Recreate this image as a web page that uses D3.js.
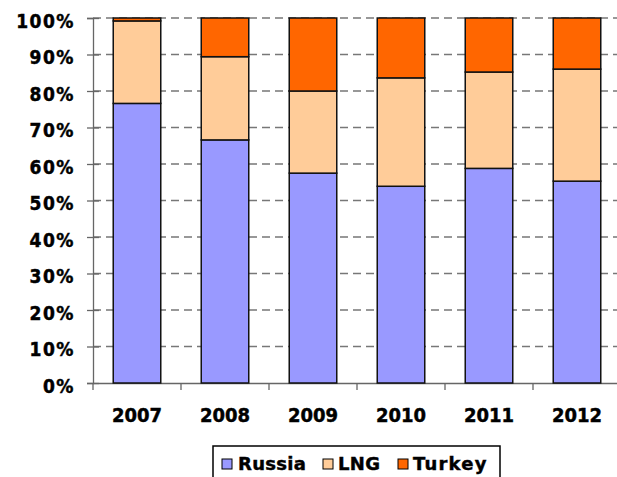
<!DOCTYPE html>
<html>
<head>
<meta charset="utf-8">
<script src="https://cdn.jsdelivr.net/npm/d3@7"></script>
<style>
  body { margin: 0; background: #fff; overflow: hidden; }
  svg { display: block; font-family: "DejaVu Sans", Verdana, sans-serif; font-weight: bold; }
  svg text { stroke: #000; stroke-width: 0.45px; }
</style>
</head>
<body>
<svg id="chart" width="617" height="477"></svg>
<script>
const years = ["2007", "2008", "2009", "2010", "2011", "2012"];
const russia = [76.6, 66.6, 57.5, 53.9, 58.8, 55.3];
const lng    = [22.6, 22.8, 22.5, 29.7, 26.4, 30.7];
const turkey = [0.8, 10.6, 20.0, 16.4, 14.8, 14.0];
const seriesNames = ["Russia", "LNG", "Turkey"];
const seriesColors = ["#9999ff", "#ffcc99", "#ff6600"];
const yTicks = [0, 10, 20, 30, 40, 50, 60, 70, 80, 90, 100];

const svg = d3.select("#chart");
const plotLeft = 93, plotRight = 621, plotTop = 18, plotBottom = 383;
const axisFont = "'DejaVu Sans Condensed', 'DejaVu Sans', sans-serif";

const x = d3.scaleBand().domain(years).range([plotLeft, plotRight]).paddingInner(0).paddingOuter(0);
const y = d3.scaleLinear().domain([0, 100]).range([plotBottom, plotTop]);

const rows = years.map((yr, i) => ({ year: yr, Russia: russia[i], LNG: lng[i], Turkey: turkey[i] }));
const stacked = d3.stack().keys(seriesNames)(rows);

// dashed grid
svg.append("g")
   .selectAll("line")
   .data(yTicks.filter(d => d > 0))
   .enter()
   .append("line")
   .attr("x1", plotLeft)
   .attr("x2", plotRight)
   .attr("y1", d => y(d))
   .attr("y2", d => y(d))
   .attr("stroke", "#777")
   .attr("stroke-width", 1.3)
   .attr("stroke-dasharray", "8,5");

// y axis
const yAxis = d3.axisLeft(y)
                .tickValues(yTicks)
                .tickSize(6)
                .tickPadding(12)
                .tickFormat(d => d + "%");
const yg = svg.append("g").attr("transform", "translate(" + plotLeft + ",0)").call(yAxis);
yg.select(".domain").attr("stroke", "#666").attr("stroke-width", 1.3);
yg.selectAll(".tick line").attr("stroke", "#666").attr("stroke-width", 1.3).attr("x2", -6).attr("x1", 6);
yg.selectAll("text")
  .attr("font-size", "19px")
  .attr("font-weight", "bold")
  .attr("font-family", axisFont)
  .attr("letter-spacing", "1.5px")
  .attr("dy", "0.48em")
  .attr("fill", "#000");

// x axis
const xAxis = d3.axisBottom(x).tickSize(0).tickPadding(24.5);
const xg = svg.append("g").attr("transform", "translate(0," + plotBottom + ")").call(xAxis);
xg.select(".domain").attr("stroke", "#666").attr("stroke-width", 1.3);
xg.selectAll("text")
  .attr("font-size", "20px")
  .attr("font-weight", "bold")
  .attr("font-family", axisFont)
  .attr("fill", "#000");
xg.append("g")
  .selectAll("line")
  .data(years)
  .enter()
  .append("line")
  .attr("x1", d => x(d))
  .attr("x2", d => x(d))
  .attr("y1", 0)
  .attr("y2", 7)
  .attr("stroke", "#666")
  .attr("stroke-width", 1.3);

// bars
const barW = x.bandwidth() * 0.54;
svg.append("g")
   .selectAll("g")
   .data(stacked)
   .enter()
   .append("g")
   .attr("fill", (d, i) => seriesColors[i])
   .selectAll("rect")
   .data(d => d)
   .enter()
   .append("rect")
   .attr("x", d => x(d.data.year) + (x.bandwidth() - barW) / 2)
   .attr("width", barW)
   .attr("y", d => y(d[1]))
   .attr("height", d => y(d[0]) - y(d[1]))
   .attr("stroke", "#111")
   .attr("stroke-width", 1.5);

// legend
const legend = svg.append("g").attr("transform", "translate(213,446)");
legend.append("rect")
      .attr("width", 287)
      .attr("height", 40)
      .attr("fill", "#fff")
      .attr("stroke", "#000")
      .attr("stroke-width", 1.5);
const legendX = [9, 110, 185];
const legendTextX = [25, 125, 200];
const item = legend.selectAll("g.item")
                   .data(seriesNames)
                   .enter()
                   .append("g")
                   .attr("class", "item");
item.append("rect")
    .attr("x", (d, i) => legendX[i])
    .attr("y", 13)
    .attr("width", 10)
    .attr("height", 10)
    .attr("fill", (d, i) => seriesColors[i])
    .attr("stroke", "#000")
    .attr("stroke-width", 1);
item.append("text")
    .attr("x", (d, i) => legendTextX[i])
    .attr("y", 24)
    .attr("font-size", "18px")
    .attr("font-family", "'DejaVu Sans', sans-serif")
    .attr("letter-spacing", (d, i) => i === 2 ? "1.2px" : "0.3px")
    .text(d => d);
</script>
</body>
</html>
